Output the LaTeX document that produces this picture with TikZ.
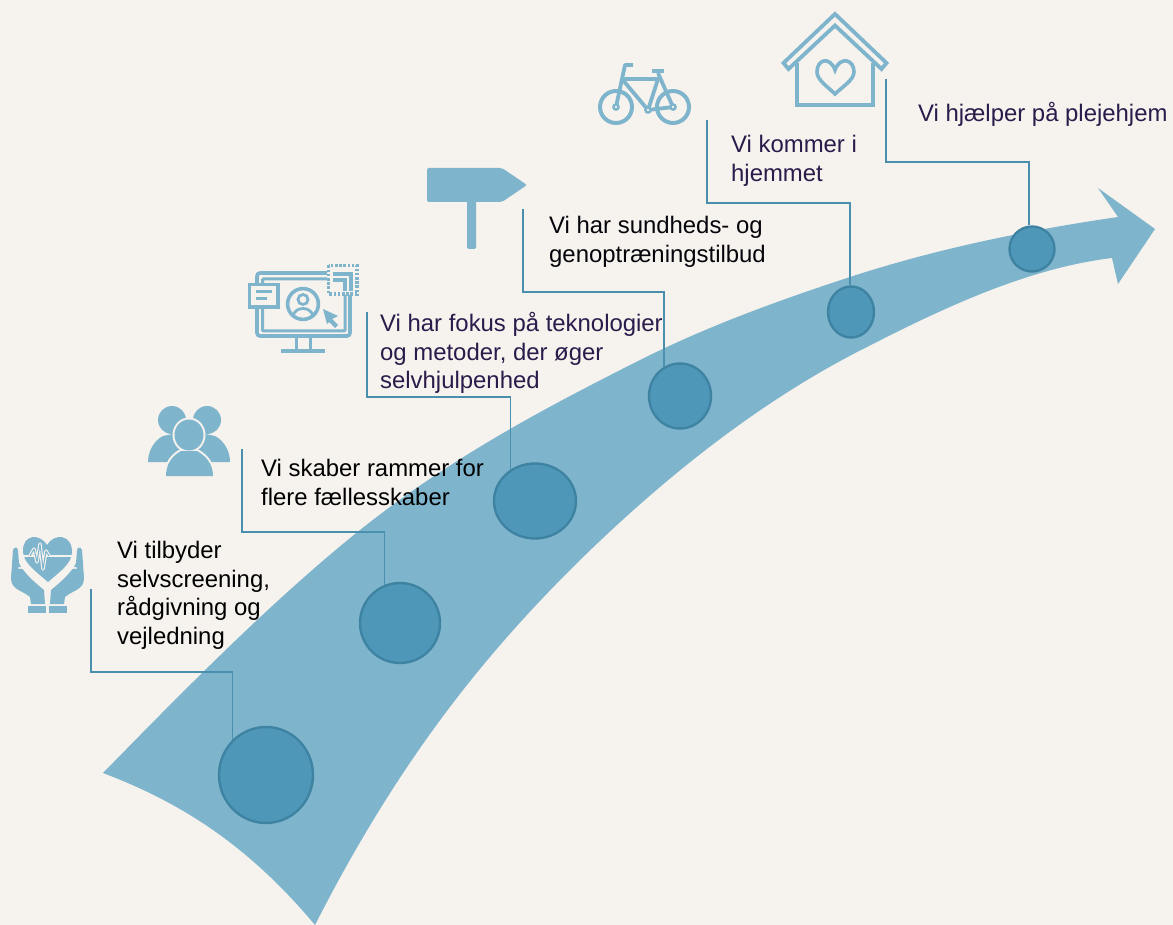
\documentclass[tikz,border=0pt]{standalone}
\usepackage{fontspec}
\setmainfont{Liberation Sans}
\usetikzlibrary{shapes.geometric}
\definecolor{bg}{HTML}{F6F2EE}
\definecolor{band}{HTML}{7FB5CC}
\definecolor{dot}{HTML}{4F97B8}
\definecolor{dotline}{HTML}{3F83A3}
\definecolor{conn}{HTML}{4A8FAE}
\definecolor{ink}{HTML}{2B1B4B}
\tikzset{
  dotnode/.style={ellipse,draw=dotline,fill=dot,line width=2.4pt,inner sep=0pt,minimum width=#1},
  linkline/.style={draw=conn,line width=1.3pt},
  lab/.style={anchor=north west,inner sep=0pt,align=left,font=\fontsize{23.9}{28.6}\selectfont},
  iconline/.style={draw=band,line width=4pt,fill=none},
  iconthin/.style={draw=band,line width=3.2pt},
}
\begin{document}
\begin{tikzpicture}[x=1pt,y=-1pt]
\useasboundingbox (0,0) rectangle (1173,925);
\fill[bg] (0,0) rectangle (1173,925);
% band arrow
\fill[band] (103,773) .. controls (189,685) and (274,599) .. (360,530)
  .. controls (453,456) and (547,407) .. (640,360)
  .. controls (710,325) and (780,300) .. (850,277)
  .. controls (939,248) and (1029,230) .. (1118,217)
  -- (1098,188) -- (1155,229) -- (1118,284) -- (1112,258)
  .. controls (1030,268) and (949,305) .. (867,347)
  .. controls (769,396) and (671,470) .. (573,567)
  .. controls (487,653) and (401,756) .. (315,925)
  .. controls (244,840) and (174,800) .. (103,773) -- cycle;
% markers
\node[dotnode=94pt,minimum height=96pt] (c1) at (266,775) {};
\node[dotnode=80pt,minimum height=80pt] (c2) at (400,623) {};
\node[dotnode=82pt,minimum height=75pt] (c3) at (535,501) {};
\node[dotnode=62pt,minimum height=65pt] (c4) at (680,396) {};
\node[dotnode=46pt,minimum height=51pt] (c5) at (851,312) {};
\node[dotnode=45pt,minimum height=45pt] (c6) at (1032,249) {};
% connectors
\coordinate (s1) at (91,589);  \coordinate (b1) at (91,672);
\coordinate (s2) at (242,449); \coordinate (b2) at (242,532);
\coordinate (s3) at (367,312); \coordinate (b3) at (367,397);
\coordinate (s4) at (523,209); \coordinate (b4) at (523,292);
\coordinate (s5) at (707,120); \coordinate (b5) at (707,203);
\coordinate (s6) at (886,79);  \coordinate (b6) at (886,162);
\draw[linkline] (s1) -- (b1) -| (c1.134);
\draw[linkline] (s2) -- (b2) -| (c2.112);
\draw[linkline] (s3) -- (b3) -| (c3.128);
\draw[linkline] (s4) -- (b4) -| (c4.119);
\draw[linkline] (s5) -- (b5) -| (c5.92);
\draw[linkline] (s6) -- (b6) -| (c6.97);
% labels
\node[lab,text=black] (t1) at (117,541) {Vi tilbyder\\selvscreening,\\rådgivning og\\vejledning};
\node[lab,text=black] (t2) at (261,459) {Vi skaber rammer for\\flere fællesskaber};
\node[lab,text=ink] (t3) at (380,312) {Vi har fokus på teknologier\\og metoder, der øger\\selvhjulpenhed};
\node[lab,text=black!85!ink] (t4) at (549,216) {Vi har sundheds- og\\genoptræningstilbud};
\node[lab,text=ink] (t5) at (731,135) {Vi kommer i\\hjemmet};
\node[lab,text=ink] (t6) at (918,102) {Vi hjælper på plejehjem};
% icon: heart in hands
\fill[band] (47,545) .. controls (40,533) and (22,534) .. (23,552) .. controls (24,564) and (38,573) .. (48,582)
  .. controls (58,573) and (72,564) .. (72,552) .. controls (72,534) and (54,533) .. (47,545) -- cycle;
\draw[bg,line width=2.4pt] (21,556) -- (74,556);
\draw[bg,line width=3.4pt,line join=round] (30,556) -- (34,549) -- (37,562) -- (40,544) -- (43,569) -- (46,551) -- (49,556);
\draw[band,line width=1.1pt,line join=round] (30,556) -- (34,549) -- (37,562) -- (40,544) -- (43,569) -- (46,551) -- (49,556);
\fill[band] (13,550) .. controls (14,547) and (18,546) .. (18,551) -- (19,563) .. controls (24,574) and (38,585) .. (44,590) -- (45,604) -- (31,604) -- (30,597) .. controls (22,590) and (11,590) .. (11,578) -- cycle;
\fill[band] (82,550) .. controls (81,547) and (77,546) .. (77,551) -- (76,563) .. controls (71,574) and (57,585) .. (51,590) -- (50,604) -- (64,604) -- (65,597) .. controls (73,590) and (84,590) .. (84,578) -- cycle;
\draw[bg,line width=1.8pt,line cap=round] (19,568) .. controls (24,566) and (32,575) .. (36,580);
\draw[bg,line width=1.8pt,line cap=round] (76,568) .. controls (71,566) and (63,575) .. (59,580);
\fill[band] (28,606) rectangle (46,613);
\fill[band] (49,606) rectangle (67,613);
% icon: people
\fill[band] (148,462) .. controls (148,450) and (155,440) .. (163,436) -- (182,432) -- (182,462) -- cycle;
\fill[band] (230,462) .. controls (230,450) and (223,440) .. (215,436) -- (196,432) -- (196,462) -- cycle;
\fill[band] (172,420) circle[radius=14];
\fill[band] (207,420) circle[radius=14];
\draw[bg,fill=bg,line width=4pt] (166,476) .. controls (166,464) and (172,456) .. (181,451) -- (197,451) .. controls (206,456) and (213,464) .. (213,476) -- cycle;
\draw[bg,fill=bg,line width=4pt] (189,435) ellipse[x radius=14.5,y radius=15.5];
\fill[bg] (160,477) rectangle (220,482);
\fill[band] (166,476) .. controls (166,464) and (172,456) .. (181,451) -- (197,451) .. controls (206,456) and (213,464) .. (213,476) -- cycle;
\fill[band] (189,435) ellipse[x radius=14.5,y radius=15.5];
% icon: monitor
\draw[draw=band,line width=3.6pt,rounded corners=3pt] (327,273) -- (257,273) -- (257,336) -- (350,336) -- (350,295);
\draw[draw=band,line width=3pt,rounded corners=1pt] (327,279) -- (262.5,279) -- (262.5,331) -- (345,331) -- (345,295);
\draw[iconthin] (333,274) -- (351,274) -- (351,291);
\draw[iconthin] (333,280) -- (345,280) -- (345,291);
\draw[draw=band,line width=3.6pt,dash pattern=on 2.6pt off 1.6pt] (328.5,265.5) rectangle (357,294);
\draw[iconthin] (296.5,338) -- (296.5,350);
\draw[iconthin] (310.5,338) -- (310.5,350);
\draw[draw=band,line width=3.6pt] (281,351) -- (325,351);
\filldraw[draw=band,fill=bg,line width=3.6pt] (249.5,284.5) rectangle (278,307);
\draw[iconthin] (256,291.5) -- (272,291.5);
\draw[iconthin] (256,298.5) -- (267,298.5);
\draw[draw=band,line width=3.6pt] (303,304) circle[radius=15.4];
\draw[draw=band,line width=2.8pt] (303,299.5) circle[radius=5];
\draw[draw=band,line width=2.8pt] (293,316) .. controls (295,306) and (311,306) .. (313,316);
\fill[band] (323,309) -- (338,316) -- (332,319) -- (338,325) -- (335,328) -- (329,322) -- (327,324) -- cycle;
% icon: signpost
\fill[band,rounded corners=2pt] (427,168) -- (502,168) -- (527,185) -- (502,202) -- (427,202) -- cycle;
\fill[band,rounded corners=1.5pt] (467,200) rectangle (476,249);
% icon: bicycle
\draw[iconline] (616,107) circle[radius=16];
\draw[iconline] (673,107) circle[radius=16];
\draw[draw=band,line width=3.8pt,line join=round] (616,107) -- (625,65) -- (633,65);
\draw[draw=band,line width=3.8pt,line join=round] (622,79) -- (658,79) -- (648,110) -- cycle;
\draw[draw=band,line width=3.8pt,line join=round] (658,73) -- (673,107) -- (648,110);
\draw[draw=band,line width=3.8pt] (652,71) -- (664,71);
\filldraw[draw=band,fill=bg,line width=2.4pt] (616,107) circle[radius=2.6];
\filldraw[draw=band,fill=bg,line width=2.4pt] (673,107) circle[radius=2.6];
\filldraw[draw=band,fill=bg,line width=2.4pt] (648,110) circle[radius=2.6];
% icon: house
\draw[draw=band,line width=3.8pt,miter limit=10] (835,14) -- (886.5,63) -- (881.5,69) -- (835,25.5) -- (788.5,69) -- (783.5,63) -- cycle;
\draw[iconline] (797,63) -- (797,105) -- (873,105) -- (873,63);
\draw[draw=band,line width=3.6pt,line join=miter] (835,70) .. controls (830,56) and (817,59) .. (817,72) .. controls (817,80) and (828,87) .. (835,94)
  .. controls (842,87) and (854,80) .. (854,72) .. controls (854,59) and (840,56) .. (835,70) -- cycle;
\end{tikzpicture}
\end{document}
